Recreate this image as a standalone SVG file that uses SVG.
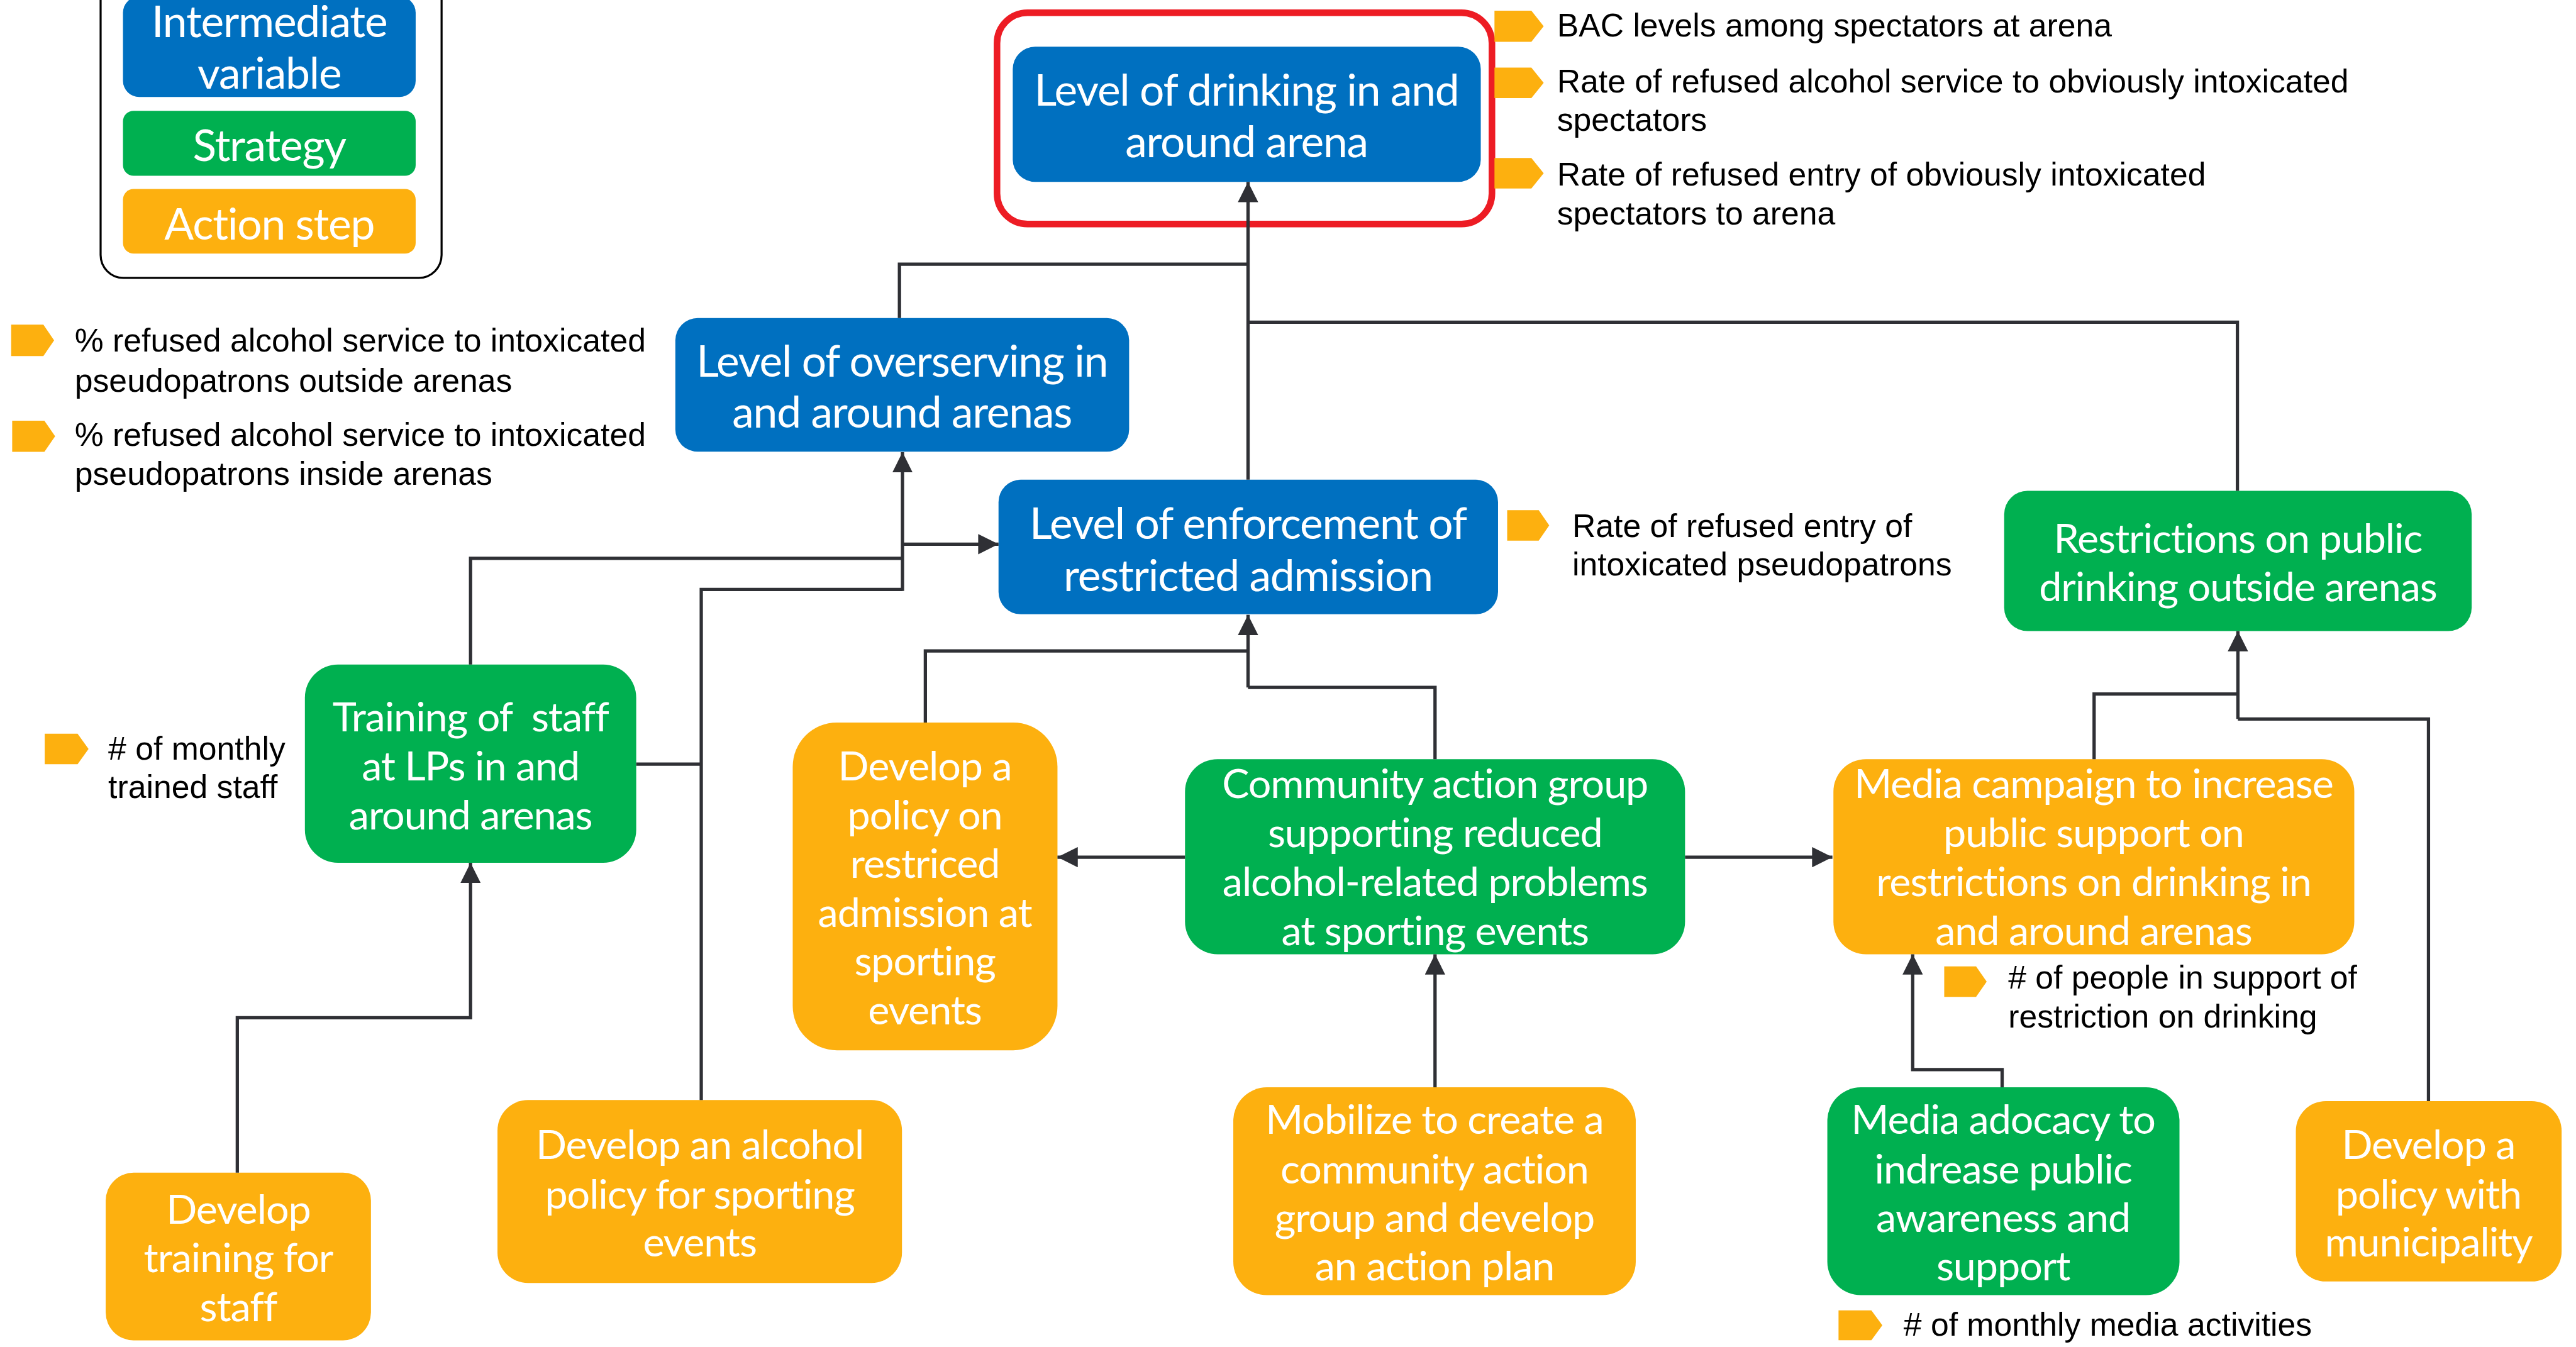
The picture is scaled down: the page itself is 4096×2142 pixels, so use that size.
<svg xmlns="http://www.w3.org/2000/svg" width="4096" height="2142" viewBox="0 0 4096 2142">
<defs>
<style>
.blue{fill:#0070C0}
.green{fill:#00B050}
.orange{fill:#FDB00F}
.nt{font-family:Lato,"Open Sans",sans-serif;fill:#FFFFFF;text-anchor:middle;font-size:80px;letter-spacing:-1.3px}
.nb{font-size:86px;letter-spacing:-1.5px}
.lbl{font-family:"Liberation Sans",Arial,sans-serif;font-size:64px;fill:#000000}
.mk{fill:#FDB00F}
.c{stroke:#2F3035;stroke-width:6.5;fill:none}
.ca{stroke:#2F3035;stroke-width:6.5;fill:none;marker-end:url(#arr)}
</style>
<marker id="arr" markerUnits="userSpaceOnUse" markerWidth="40" markerHeight="40" viewBox="0 0 40 40" refX="40" refY="20" orient="auto">
<path d="M0,0 L40,20 L0,40 Z" fill="#2F3035"/>
</marker>
<path id="tag" d="M0,0 H66 L88,30 L66,60 H0 Z"/>
</defs>
<rect width="4096" height="2142" fill="#FFFFFF"/>
<g transform="scale(0.808)">

<g id="legend">
<rect x="198" y="-60" width="671" height="607" rx="45" fill="#FFFFFF" stroke="#000000" stroke-width="4"/>
<rect class="blue" x="242" y="-7" width="576" height="198" rx="32"/>
<text class="nt nb" x="530" y="73">Intermediate</text>
<text class="nt nb" x="530" y="175">variable</text>
<rect class="green" x="242" y="218" width="576" height="128" rx="21"/>
<text class="nt nb" x="530" y="317">Strategy</text>
<rect class="orange" x="242" y="372" width="576" height="127" rx="21"/>
<text class="nt nb" x="530" y="471">Action step</text>
</g>

<g id="highlight">
<rect x="1962" y="25" width="974" height="416" rx="60" fill="none" stroke="#ED1C24" stroke-width="13"/>
</g>

<g id="n-drinking">
<rect class="blue" x="1993" y="92" width="921" height="266" rx="44"/>
<text class="nt nb" x="2453" y="208">Level of drinking in and</text>
<text class="nt nb" x="2453" y="310">around arena</text>
</g>

<g id="n-overserving">
<rect class="blue" x="1329" y="626" width="893" height="263" rx="44"/>
<text class="nt nb" x="1775" y="741">Level of overserving in</text>
<text class="nt nb" x="1775" y="842">and around arenas</text>
</g>

<g id="n-enforcement">
<rect class="blue" x="1965" y="944" width="983" height="265" rx="44"/>
<text class="nt nb" x="2456" y="1061">Level of enforcement of</text>
<text class="nt nb" x="2456" y="1163">restricted admission</text>
</g>

<g id="n-restrictions">
<rect class="green" x="3944" y="966" width="920" height="276" rx="46"/>
<text class="nt" x="4404" y="1088">Restrictions on public</text>
<text class="nt" x="4404" y="1183">drinking outside arenas</text>
</g>

<g id="n-training">
<rect class="green" x="600" y="1308" width="652" height="390" rx="65"/>
<text class="nt" x="926" y="1439" xml:space="preserve">Training of  staff</text>
<text class="nt" x="926" y="1536">at LPs in and</text>
<text class="nt" x="926" y="1632">around arenas</text>
</g>

<g id="n-policy-admission">
<rect class="orange" x="1560" y="1422" width="521" height="645" rx="87"/>
<text class="nt" x="1820" y="1536">Develop a</text>
<text class="nt" x="1820" y="1632">policy on</text>
<text class="nt" x="1820" y="1728">restriced</text>
<text class="nt" x="1820" y="1824">admission at</text>
<text class="nt" x="1820" y="1920">sporting</text>
<text class="nt" x="1820" y="2016">events</text>
</g>

<g id="n-community">
<rect class="green" x="2332" y="1494" width="984" height="384" rx="64"/>
<text class="nt" x="2824" y="1571">Community action group</text>
<text class="nt" x="2824" y="1667">supporting reduced</text>
<text class="nt" x="2824" y="1763">alcohol-related problems</text>
<text class="nt" x="2824" y="1860">at sporting events</text>
</g>

<g id="n-media-campaign">
<rect class="orange" x="3608" y="1494" width="1025" height="384" rx="64"/>
<text class="nt" x="4120" y="1571">Media campaign to increase</text>
<text class="nt" x="4120" y="1667">public support on</text>
<text class="nt" x="4120" y="1763">restrictions on drinking in</text>
<text class="nt" x="4120" y="1860">and around arenas</text>
</g>

<g id="n-develop-training">
<rect class="orange" x="208" y="2308" width="522" height="330" rx="55"/>
<text class="nt" x="469" y="2408">Develop</text>
<text class="nt" x="469" y="2504">training for</text>
<text class="nt" x="469" y="2600">staff</text>
</g>

<g id="n-alcohol-policy">
<rect class="orange" x="979" y="2165" width="796" height="360" rx="60"/>
<text class="nt" x="1377" y="2281">Develop an alcohol</text>
<text class="nt" x="1377" y="2379">policy for sporting</text>
<text class="nt" x="1377" y="2473">events</text>
</g>

<g id="n-mobilize">
<rect class="orange" x="2427" y="2140" width="792" height="409" rx="66"/>
<text class="nt" x="2823" y="2232">Mobilize to create a</text>
<text class="nt" x="2823" y="2329">community action</text>
<text class="nt" x="2823" y="2424">group and develop</text>
<text class="nt" x="2823" y="2520">an action plan</text>
</g>

<g id="n-media-advocacy">
<rect class="green" x="3596" y="2140" width="693" height="409" rx="66"/>
<text class="nt" x="3942" y="2232">Media adocacy to</text>
<text class="nt" x="3942" y="2329">indrease public</text>
<text class="nt" x="3942" y="2424">awareness and</text>
<text class="nt" x="3942" y="2520">support</text>
</g>

<g id="n-municipality">
<rect class="orange" x="4518" y="2167" width="523" height="355" rx="59"/>
<text class="nt" x="4779" y="2281">Develop a</text>
<text class="nt" x="4779" y="2379">policy with</text>
<text class="nt" x="4779" y="2473">municipality</text>
</g>

<g id="labels">
<use href="#tag" class="mk" transform="translate(2941,21) scale(1.1,1.02)"/>
<text class="lbl" x="3064" y="72">BAC levels among spectators at arena</text>
<use href="#tag" class="mk" transform="translate(2941,133) scale(1.1,1)"/>
<text class="lbl" x="3064" y="182">Rate of refused alcohol service to obviously intoxicated</text>
<text class="lbl" x="3064" y="257">spectators</text>
<use href="#tag" class="mk" transform="translate(2941,311) scale(1.1,1)"/>
<text class="lbl" x="3064" y="365">Rate of refused entry of obviously intoxicated</text>
<text class="lbl" x="3064" y="442">spectators to arena</text>
<use href="#tag" class="mk" transform="translate(22,639) scale(0.96,1.03)"/>
<text class="lbl" x="147" y="692">% refused alcohol service to intoxicated</text>
<text class="lbl" x="147" y="771">pseudopatrons outside arenas</text>
<use href="#tag" class="mk" transform="translate(24,828) scale(0.96,1.02)"/>
<text class="lbl" x="147" y="878">% refused alcohol service to intoxicated</text>
<text class="lbl" x="147" y="954">pseudopatrons inside arenas</text>
<use href="#tag" class="mk" transform="translate(2966,1004) scale(0.94,1)"/>
<text class="lbl" x="3094" y="1057">Rate of refused entry of</text>
<text class="lbl" x="3094" y="1133">intoxicated pseudopatrons</text>
<use href="#tag" class="mk" transform="translate(88,1444) scale(0.98,1)"/>
<text class="lbl" x="213" y="1495">#&#160;of monthly</text>
<text class="lbl" x="213" y="1571">trained staff</text>
<use href="#tag" class="mk" transform="translate(3826,1902) scale(0.95,1)"/>
<text class="lbl" x="3952" y="1946">#&#160;of people in support of</text>
<text class="lbl" x="3952" y="2022">restriction on drinking</text>
<use href="#tag" class="mk" transform="translate(3618,2579) scale(0.98,0.98)"/>
<text class="lbl" x="3746" y="2629">#&#160;of monthly media activities</text>
</g>

<g id="connectors">
<path class="ca" d="M2456,944 V358"/>
<path class="c" d="M1770,626 V520 H2456"/>
<path class="c" d="M4403,966 V634 H2456"/>
<path class="c" d="M926,1308 V1099 H1776"/>
<path class="c" d="M1380,2165 V1160 H1776"/>
<path class="ca" d="M1776,1163 V890"/>
<path class="ca" d="M1776,1071 H1965"/>
<path class="c" d="M1252,1504 H1380"/>
<path class="ca" d="M467,2308 V2003 H926 V1698"/>
<path class="c" d="M1821,1422 V1281 H2456"/>
<path class="c" d="M2824,1494 V1353 H2456"/>
<path class="ca" d="M2456,1353 V1210"/>
<path class="ca" d="M2332,1687 H2081"/>
<path class="ca" d="M3316,1687 H3606"/>
<path class="ca" d="M2824,2140 V1878"/>
<path class="ca" d="M3940,2140 V2105 H3764 V1878"/>
<path class="c" d="M4121,1494 V1366 H4404"/>
<path class="c" d="M4779,2167 V1415 H4404"/>
<path class="ca" d="M4404,1415 V1242"/>
</g>

</g>
</svg>
